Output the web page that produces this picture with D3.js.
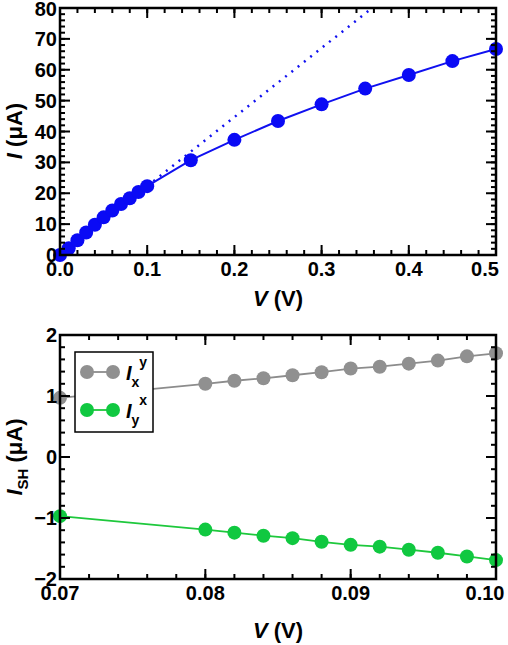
<!DOCTYPE html>
<html><head><meta charset="utf-8">
<script src="https://cdn.jsdelivr.net/npm/d3@7"></script>
<style>body{margin:0;background:#fff}text{font-family:"Liberation Sans",Arial,sans-serif;font-weight:bold}</style>
</head><body>
<svg id="c" width="508" height="645"></svg>
<script>
// top panel: I-V curve
let topV = [0,0.01,0.02,0.03,0.04,0.05,0.06,0.07,0.08,0.09,0.1,0.15,0.2,0.25,0.3,0.35,0.4,0.45,0.5]
let topI = [0,2.2,4.8,7.3,9.8,12.2,14.4,16.5,18.4,20.4,22.3,30.7,37.3,43.4,48.8,53.9,58.3,62.8,66.7]
let fitV = [0.1,0.358]
let fitI = [22.3,80]
// bottom panel: spin Hall currents
let botV = [0.07,0.08,0.082,0.084,0.086,0.088,0.09,0.092,0.094,0.096,0.098,0.1]
let Ixy = [0.97,1.2,1.25,1.29,1.34,1.39,1.45,1.48,1.53,1.58,1.65,1.70]
let Iyx = [-0.97,-1.19,-1.24,-1.29,-1.33,-1.39,-1.44,-1.47,-1.52,-1.57,-1.63,-1.69]

let svg = d3.select('#c')
let L = 60, R = 496

function frame(g, x, y, xt, xm, yt, ym, xf, yf) {
    let [x0, x1] = x.range(), [y0, y1] = y.range()
    // minor ticks on all sides
    xm.forEach(v => {
        g.append('line').attr('x1', x(v)).attr('x2', x(v)).attr('y1', y0).attr('y2', y0 - 5).attr('stroke', '#000').attr('stroke-width', 2)
        g.append('line').attr('x1', x(v)).attr('x2', x(v)).attr('y1', y1).attr('y2', y1 + 5).attr('stroke', '#000').attr('stroke-width', 2)
    })
    ym.forEach(v => {
        g.append('line').attr('y1', y(v)).attr('y2', y(v)).attr('x1', x0).attr('x2', x0 + 5).attr('stroke', '#000').attr('stroke-width', 2)
        g.append('line').attr('y1', y(v)).attr('y2', y(v)).attr('x1', x1).attr('x2', x1 - 5).attr('stroke', '#000').attr('stroke-width', 2)
    })
    xt.forEach(v => {
        g.append('line').attr('x1', x(v)).attr('x2', x(v)).attr('y1', y0).attr('y2', y0 - 10).attr('stroke', '#000').attr('stroke-width', 2)
        g.append('line').attr('x1', x(v)).attr('x2', x(v)).attr('y1', y1).attr('y2', y1 + 10).attr('stroke', '#000').attr('stroke-width', 2)
        g.append('text').attr('x', Math.min(x(v), 485)).attr('y', y0 + 21).attr('text-anchor', 'middle').attr('font-size', 20).text(xf(v))
    })
    yt.forEach(v => {
        g.append('line').attr('y1', y(v)).attr('y2', y(v)).attr('x1', x0).attr('x2', x0 + 10).attr('stroke', '#000').attr('stroke-width', 2)
        g.append('line').attr('y1', y(v)).attr('y2', y(v)).attr('x1', x1).attr('x2', x1 - 10).attr('stroke', '#000').attr('stroke-width', 2)
        g.append('text').attr('x', x0 - 3).attr('y', Math.max(y(v) + 7, 16)).attr('text-anchor', 'end').attr('font-size', 20).text(yf(v))
    })
    g.append('rect').attr('x', x0).attr('y', y1).attr('width', x1 - x0).attr('height', y0 - y1)
        .attr('fill', 'none').attr('stroke', '#000').attr('stroke-width', 2.5)
}

// top panel
let x1 = d3.scaleLinear().domain([0, 0.5]).range([L, R])
let y1 = d3.scaleLinear().domain([0, 80]).range([255, 8])
let g1 = svg.append('g')
let line1 = d3.line().x(d => x1(d[0])).y(d => y1(d[1]))
g1.append('path').attr('d', line1(d3.zip(fitV, fitI))).attr('fill', 'none')
    .attr('stroke', '#1010f0').attr('stroke-width', 2.5).attr('stroke-dasharray', '2,6')
g1.append('path').attr('d', line1(d3.zip(topV, topI))).attr('fill', 'none').attr('stroke', '#1010f0').attr('stroke-width', 2)
g1.selectAll('circle').data(d3.zip(topV, topI)).join('circle')
    .attr('cx', d => x1(d[0])).attr('cy', d => y1(d[1])).attr('r', 7).attr('fill', '#0a0af5')
frame(g1, x1, y1, d3.range(0, 0.51, 0.1), d3.range(0, 0.51, 0.02), d3.range(0, 81, 10), d3.range(0, 81, 2),
    d3.format('.1f'), d3.format('d'))
g1.append('text').attr('x', 278).attr('y', 306).attr('text-anchor', 'middle').attr('font-size', 22)
    .html('<tspan font-style="italic">V</tspan> (V)')
g1.append('text').attr('transform', 'translate(22,131) rotate(-90)').attr('text-anchor', 'middle').attr('font-size', 22)
    .html('<tspan font-style="italic">I</tspan> (μA)')

// bottom panel
let x2 = d3.scaleLinear().domain([0.07, 0.1]).range([L, R])
let y2 = d3.scaleLinear().domain([-2, 2]).range([579, 335])
let g2 = svg.append('g')
let line2 = d3.line().x(d => x2(d[0])).y(d => y2(d[1]))
let series = [[Ixy, '#8c8c8c', '#909090'], [Iyx, '#1ec83c', '#10c840']]
series.forEach(([vals, lc, fc]) => {
    g2.append('path').attr('d', line2(d3.zip(botV, vals))).attr('fill', 'none').attr('stroke', lc).attr('stroke-width', 1.8)
    g2.append('g').selectAll('circle').data(d3.zip(botV, vals)).join('circle')
        .attr('cx', d => x2(d[0])).attr('cy', d => y2(d[1])).attr('r', 7).attr('fill', fc)
})
frame(g2, x2, y2, [0.07, 0.08, 0.09, 0.1], d3.range(0.07, 0.1001, 0.002), d3.range(-2, 2.1, 1), d3.range(-2, 2.1, 0.2),
    d3.format('.2f'), d3.format('d'))
// legend
let lg = g2.append('g')
lg.append('rect').attr('x', 75).attr('y', 352).attr('width', 78).attr('height', 80).attr('fill', '#fff').attr('stroke', '#000').attr('stroke-width', 1.5)
let legendLabels = [['x', 'y'], ['y', 'x']]
series.forEach(([vals, lc, fc], i) => {
    let yy = 372 + i * 38
    lg.append('line').attr('x1', 87).attr('x2', 113).attr('y1', yy).attr('y2', yy).attr('stroke', lc).attr('stroke-width', 1.8)
    lg.append('circle').attr('cx', 87).attr('cy', yy).attr('r', 7).attr('fill', fc)
    lg.append('circle').attr('cx', 113).attr('cy', yy).attr('r', 7).attr('fill', fc)
    let t = lg.append('text').attr('x', 126).attr('y', yy + 8).attr('font-size', 20)
    t.append('tspan').attr('font-style', 'italic').text('I')
    t.append('tspan').attr('font-size', 14).attr('dy', 7).text(legendLabels[i][0])
    t.append('tspan').attr('font-size', 14).attr('dy', -20).attr('dx', 0).text(legendLabels[i][1])
})
g2.append('text').attr('x', 278).attr('y', 638).attr('text-anchor', 'middle').attr('font-size', 22)
    .html('<tspan font-style="italic">V</tspan> (V)')
g2.append('text').attr('transform', 'translate(22,457) rotate(-90)').attr('text-anchor', 'middle').attr('font-size', 22)
    .html('<tspan font-style="italic">I</tspan><tspan font-size="15" dy="6">SH</tspan><tspan dy="-6"> (μA)</tspan>')
</script>
</body></html>
